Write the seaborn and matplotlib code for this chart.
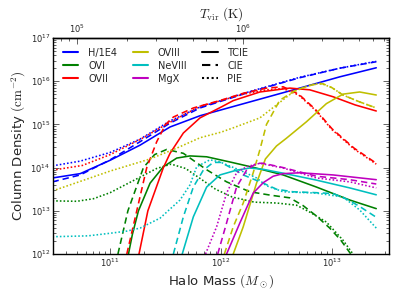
import numpy as np
import pandas as pd
import seaborn as sns
import matplotlib.pyplot as plt
from matplotlib.lines import Line2D

ions = ["H/1E4", "OVI", "OVII", "OVIII", "NeVIII", "MgX"]
models = ["TCIE", "CIE", "PIE"]
ion_colors = {"H/1E4": "b", "OVI": "g", "OVII": "r", "OVIII": "y", "NeVIII": "c", "MgX": "m"}
model_dashes = {"TCIE": "", "CIE": (4, 2.5), "PIE": (1, 1.3)}
tvir_ticks = [1e5, 1e6]

# log10(halo mass), log10(column density)
h_tcie_m = [10.48, 10.73, 11.0, 11.27, 11.54, 11.81, 12.26, 12.71, 13.07, 13.4]
h_tcie_n = [13.76, 13.86, 14.17, 14.52, 14.94, 15.2, 15.52, 15.84, 16.1, 16.31]
h_cie_m = [10.48, 10.73, 11.0, 11.27, 11.54, 11.81, 12.26, 12.71, 13.07, 13.4]
h_cie_n = [13.67, 13.83, 14.18, 14.6, 15.03, 15.38, 15.75, 16.08, 16.3, 16.45]
h_pie_m = [10.48, 10.73, 11.0, 11.27, 11.54, 11.81, 12.26, 12.71, 13.07, 13.4]
h_pie_n = [14.04, 14.15, 14.35, 14.66, 15.08, 15.4, 15.76, 16.09, 16.3, 16.46]

o6_tcie_m = [11.165, 11.2, 11.255, 11.36, 11.48, 11.6, 11.72, 11.87, 12.08, 12.3, 12.56, 12.86, 13.16, 13.4]
o6_tcie_n = [12.0, 12.45, 13.0, 13.64, 14.02, 14.22, 14.27, 14.25, 14.13, 14.0, 13.83, 13.55, 13.25, 13.05]
o6_cie_m = [11.07, 11.16, 11.3, 11.4, 11.51, 11.66, 11.87, 12.05, 12.26, 12.45, 12.62, 12.74, 12.86, 12.98, 13.08, 13.17]
o6_cie_n = [12.0, 13.0, 14.0, 14.3, 14.42, 14.33, 13.95, 13.67, 13.44, 13.36, 13.3, 13.12, 12.88, 12.6, 12.32, 12.0]
o6_pie_m = [10.48, 10.7, 10.85, 11.0, 11.12, 11.27, 11.42, 11.55, 11.68, 11.81, 11.95, 12.1, 12.3, 12.5, 12.68, 12.8, 12.95, 13.1, 13.19]
o6_pie_n = [13.23, 13.22, 13.28, 13.42, 13.58, 13.78, 13.98, 14.08, 13.98, 13.75, 13.5, 13.32, 13.2, 13.18, 13.13, 12.97, 12.74, 12.32, 12.0]

o7_tcie_m = [11.26, 11.34, 11.48, 11.54, 11.66, 11.81, 12.0, 12.11, 12.35, 12.62, 12.8, 13.01, 13.21, 13.4]
o7_tcie_n = [12.0, 13.0, 14.0, 14.33, 14.8, 15.15, 15.4, 15.55, 15.75, 15.84, 15.8, 15.64, 15.45, 15.31]
o7_cie_m = [11.15, 11.24, 11.33, 11.42, 11.5, 11.57, 11.75, 12.0, 12.2, 12.41, 12.56, 12.7, 12.85, 13.0, 13.2, 13.4]
o7_cie_n = [12.0, 13.0, 14.0, 14.6, 15.0, 15.17, 15.38, 15.56, 15.72, 15.84, 15.87, 15.7, 15.35, 14.9, 14.45, 14.1]
o7_pie_m = [10.48, 10.75, 11.0, 11.27, 11.54, 11.81, 12.0, 12.2, 12.41, 12.56, 12.7, 12.85, 13.0, 13.2, 13.4]
o7_pie_n = [13.94, 14.05, 14.3, 14.65, 15.05, 15.42, 15.55, 15.7, 15.8, 15.83, 15.68, 15.33, 14.88, 14.43, 14.08]

o8_tcie_m = [12.11, 12.2, 12.32, 12.4, 12.5, 12.59, 12.77, 12.95, 13.1, 13.25, 13.4]
o8_tcie_n = [12.0, 12.63, 13.64, 14.2, 14.5, 14.68, 15.06, 15.48, 15.7, 15.75, 15.68]
o8_cie_m = [12.03, 12.11, 12.2, 12.29, 12.35, 12.41, 12.53, 12.68, 12.83, 12.92, 13.0, 13.1, 13.25, 13.4]
o8_cie_n = [12.0, 12.63, 13.18, 13.88, 14.41, 15.0, 15.56, 15.8, 15.92, 15.94, 15.85, 15.68, 15.52, 15.38]
o8_pie_m = [10.48, 10.82, 11.0, 11.36, 11.6, 11.81, 12.0, 12.11, 12.35, 12.5, 12.65, 12.8, 12.9, 13.0, 13.1, 13.25, 13.4]
o8_pie_n = [13.46, 13.76, 13.92, 14.2, 14.45, 14.69, 14.82, 14.92, 15.15, 15.45, 15.75, 15.91, 15.95, 15.85, 15.68, 15.52, 15.38]

ne8_tcie_m = [11.65, 11.75, 11.87, 11.99, 12.14, 12.26, 12.38, 12.56, 12.86, 13.16, 13.4]
ne8_tcie_n = [12.0, 12.86, 13.55, 13.83, 13.94, 13.99, 13.96, 13.87, 13.71, 13.53, 13.37]
ne8_cie_m = [11.57, 11.66, 11.75, 11.84, 11.93, 12.0, 12.1, 12.2, 12.38, 12.5, 12.65, 12.85, 13.01, 13.15, 13.25, 13.4]
ne8_cie_n = [12.0, 12.86, 13.55, 13.94, 14.12, 14.12, 13.98, 13.83, 13.64, 13.5, 13.44, 13.42, 13.4, 13.25, 13.1, 12.85]
ne8_pie_m = [10.48, 10.8, 11.0, 11.15, 11.27, 11.45, 11.63, 11.72, 11.78, 11.9, 11.99, 12.17, 12.32, 12.41, 12.56, 12.86, 13.1, 13.25, 13.4]
ne8_pie_n = [12.4, 12.42, 12.48, 12.53, 12.6, 12.83, 13.25, 13.6, 14.02, 14.18, 14.13, 13.94, 13.76, 13.58, 13.44, 13.41, 13.32, 13.02, 12.6]

mg10_tcie_m = [12.05, 12.17, 12.29, 12.38, 12.47, 12.56, 12.71, 13.01, 13.4]
mg10_tcie_n = [12.0, 12.72, 13.41, 13.65, 13.8, 13.86, 13.88, 13.83, 13.72]
mg10_cie_m = [11.97, 12.05, 12.14, 12.23, 12.32, 12.38, 12.56, 12.86, 13.16, 13.4]
mg10_cie_n = [12.0, 12.72, 13.55, 13.94, 14.1, 14.1, 14.0, 13.8, 13.72, 13.62]
mg10_pie_m = [11.86, 11.96, 12.05, 12.14, 12.23, 12.35, 12.56, 12.86, 13.16, 13.4]
mg10_pie_n = [12.0, 12.63, 13.41, 13.88, 14.02, 14.1, 13.99, 13.76, 13.67, 13.53]

curves = {
    ("H/1E4", "TCIE"): (h_tcie_m, h_tcie_n),
    ("H/1E4", "CIE"): (h_cie_m, h_cie_n),
    ("H/1E4", "PIE"): (h_pie_m, h_pie_n),
    ("OVI", "TCIE"): (o6_tcie_m, o6_tcie_n),
    ("OVI", "CIE"): (o6_cie_m, o6_cie_n),
    ("OVI", "PIE"): (o6_pie_m, o6_pie_n),
    ("OVII", "TCIE"): (o7_tcie_m, o7_tcie_n),
    ("OVII", "CIE"): (o7_cie_m, o7_cie_n),
    ("OVII", "PIE"): (o7_pie_m, o7_pie_n),
    ("OVIII", "TCIE"): (o8_tcie_m, o8_tcie_n),
    ("OVIII", "CIE"): (o8_cie_m, o8_cie_n),
    ("OVIII", "PIE"): (o8_pie_m, o8_pie_n),
    ("NeVIII", "TCIE"): (ne8_tcie_m, ne8_tcie_n),
    ("NeVIII", "CIE"): (ne8_cie_m, ne8_cie_n),
    ("NeVIII", "PIE"): (ne8_pie_m, ne8_pie_n),
    ("MgX", "TCIE"): (mg10_tcie_m, mg10_tcie_n),
    ("MgX", "CIE"): (mg10_cie_m, mg10_cie_n),
    ("MgX", "PIE"): (mg10_pie_m, mg10_pie_n),
}

rows = []
for (ion, model), (lm, ln) in curves.items():
    for a, b in zip(lm, ln):
        rows.append((ion, model, 10 ** a, 10 ** b))
df = pd.DataFrame(rows, columns=["ion", "model", "mass", "N"])

sns.set_style("ticks")
plt.rcParams.update({
    "mathtext.fontset": "cm",
    "xtick.direction": "in",
    "ytick.direction": "in",
    "xtick.major.size": 4,
    "ytick.major.size": 4,
    "xtick.minor.size": 2,
    "ytick.minor.size": 2,
    "xtick.major.width": 0.5,
    "ytick.major.width": 0.5,
    "xtick.minor.width": 0.5,
    "ytick.minor.width": 0.5,
    "axes.linewidth": 1.0,
    "axes.edgecolor": "k",
})
plt.rcParams["font.family"] = ["DejaVu Sans"]

fig, ax = plt.subplots(figsize=(3.99, 2.99), dpi=100)
fig.subplots_adjust(left=0.133, right=0.975, bottom=0.1505, top=0.873)
ax.set_xscale("log")
ax.set_yscale("log")

sns.lineplot(data=df, x="mass", y="N", hue="ion", style="model",
             hue_order=ions, style_order=models, palette=ion_colors,
             dashes=model_dashes, estimator=None, sort=False,
             lw=1.15, legend=False, ax=ax)

ax.set_xlim(10 ** 10.485, 10 ** 13.515)
ax.set_ylim(1e12, 1e17)
ax.tick_params(which="both", top=False, right=True, labelsize=6, pad=2)
ax.set_xlabel(r"Halo Mass $(M_\odot)$", fontsize=9.5, labelpad=2)
ax.set_ylabel(r"Column Density $({\rm cm}^{-2})$", fontsize=9.5, labelpad=2)


def m2t(m):
    return 1e5 * (np.asarray(m, dtype=float) / 5e10) ** (2.0 / 3.0)


def t2m(t):
    return 5e10 * (np.asarray(t, dtype=float) / 1e5) ** 1.5


sec = ax.secondary_xaxis("top", functions=(m2t, t2m))
sec.set_xticks(tvir_ticks)
sec.tick_params(which="both", direction="in", labelsize=6, pad=2)
sec.set_xlabel(r"$T_{\rm vir}\ ({\rm K})$", fontsize=9.5, labelpad=4)

handles = [Line2D([], [], color=ion_colors[i], lw=1.5) for i in ions]
handles += [Line2D([], [], color="k", lw=1.5, dashes=(model_dashes[m] if model_dashes[m] else (None, None)))
            for m in models]
ax.legend(handles, ions + models, ncol=3, frameon=False, fontsize=7,
          loc="upper left", handlelength=1.6, handletextpad=1.0,
          columnspacing=1.6, labelspacing=0.3, borderaxespad=0.6)

fig.savefig("out.png", dpi=100)
